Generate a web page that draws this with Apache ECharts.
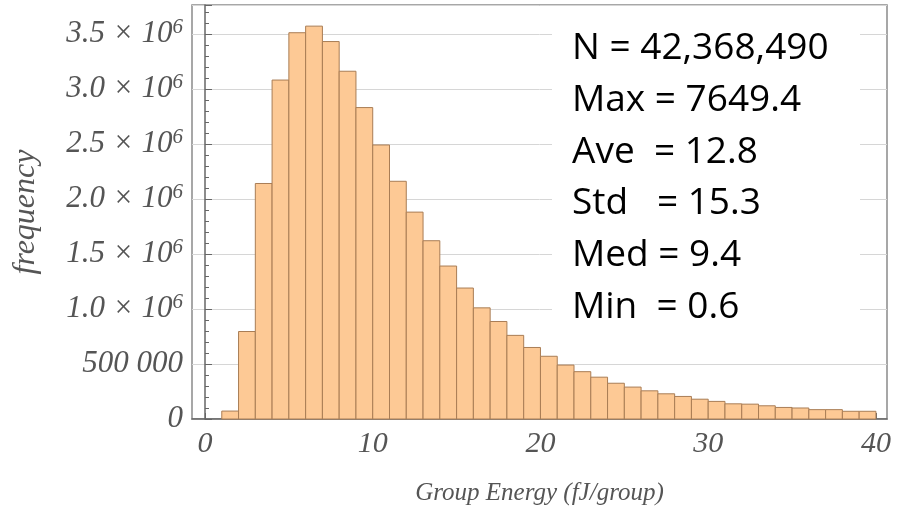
<!DOCTYPE html>
<html>
<head>
<meta charset="utf-8">
<script src="https://cdn.jsdelivr.net/npm/echarts@6/dist/echarts.min.js"></script>
<style>
html,body{margin:0;padding:0;background:#fff;}
#chart{width:897px;height:511px;}
</style>
</head>
<body>
<div id="chart"></div>
<script>
// ---- data ----
const binStarts = [1,2,3,4,5,6,7,8,9,10,11,12,13,14,15,16,17,18,19,20,21,22,23,24,25,26,27,28,29,30,31,32,33,34,35,36,37,38,39];
const binEnds   = [2,3,4,5,6,7,8,9,10,11,12,13,14,15,16,17,18,19,20,21,22,23,24,25,26,27,28,29,30,31,32,33,34,35,36,37,38,39,40];
const counts = [72000,795000,2140000,3080000,3510000,3570000,3430000,3160000,2830000,2490000,
                2160000,1880000,1620000,1390000,1190000,1010000,886000,760000,650000,570000,
                490000,430000,380000,325000,290000,256000,229000,205000,180000,160000,
                138000,135000,120000,105000,100000,85000,85000,70000,70000];
const xTickValues = [0,10,20,30,40];
const xTickLabels = ['0','10','20','30','40'];
const yTickValues = [0,500000,1000000,1500000,2000000,2500000,3000000,3500000];
const yTickMantissa = ['0','500 000','1.0','1.5','2.0','2.5','3.0','3.5'];
const statsLines = ['N = 42,368,490','Max = 7649.4','Ave  = 12.8','Std   = 15.3','Med = 9.4','Min  = 0.6'];

const histData = binStarts.map((s,i)=>[s, binEnds[i], counts[i]]);

const chart = echarts.init(document.getElementById('chart'), null, {renderer:'canvas'});
const serif = '"Liberation Serif", "DejaVu Serif", serif';

const graphics = [{
  type:'rect', z:50,
  shape:{x:552, y:12, width:308, height:320},
  style:{fill:'#ffffff'}
}];
statsLines.forEach((t,i)=>{
  graphics.push({
    type:'text', z:60,
    x:572, y:48.5 + i*51.8,
    style:{text:t, fill:'#000', font:'37px "Open Sans"', verticalAlign:'middle', align:'left'}
  });
});

chart.setOption({
  animation:false,
  backgroundColor:'#ffffff',
  grid:{left:192, right:10, top:5, bottom:90, show:true, borderColor:'#8a8a8a', borderWidth:1.5},
  xAxis:{
    type:'value', min:-0.775, max:40.66,
    name:'Group Energy (fJ/group)', nameLocation:'middle', nameGap:62,
    nameTextStyle:{fontFamily:serif, fontStyle:'italic', fontSize:25, color:'#555'},
    axisLine:{show:true, onZero:false, lineStyle:{color:'#666', width:1.5}},
    axisTick:{show:true, inside:true, length:6, customValues:xTickValues, lineStyle:{color:'#666'}},
    axisLabel:{customValues:xTickValues, margin:10, fontFamily:serif, fontStyle:'italic', fontSize:30, color:'#555',
      formatter:(v)=>{const k=xTickValues.indexOf(v); return k>=0?xTickLabels[k]:'';}},
    splitLine:{show:false}
  },
  yAxis:{
    type:'value', min:0, max:3762000, interval:500000,
    name:'frequency', nameLocation:'middle', nameGap:150, nameRotate:90,
    nameTextStyle:{fontFamily:serif, fontStyle:'italic', fontSize:32, color:'#555'},
    axisLine:{show:true, lineStyle:{color:'#666', width:1.5}},
    axisTick:{show:true, inside:true, length:7, lineStyle:{color:'#666'}},
    minorTick:{show:true, splitNumber:5, length:4, lineStyle:{color:'#666'}},
    splitLine:{show:true, lineStyle:{color:'#d6d6d6', width:1}},
    axisLabel:{margin:9,
      formatter:(v)=>{
        const k = yTickValues.indexOf(v);
        if(k<0) return '';
        if(k<2) return '{a|'+yTickMantissa[k]+'}';
        return '{a|'+yTickMantissa[k]+' × 10}{s|6}';
      },
      rich:{
        a:{fontFamily:serif, fontStyle:'italic', fontSize:31, color:'#555', lineHeight:34},
        s:{fontFamily:serif, fontStyle:'italic', fontSize:21, color:'#555', lineHeight:22, verticalAlign:'top'}
      }
    }
  },
  series:[{
    type:'custom',
    encode:{x:[0,1], y:2},
    data:histData,
    renderItem:(params, api)=>{
      const p0 = api.coord([api.value(0), api.value(2)]);
      const p1 = api.coord([api.value(1), 0]);
      return {type:'rect',
        shape:{x:p0[0], y:p0[1], width:p1[0]-p0[0], height:p1[1]-p0[1]},
        style:{fill:'#fdc995', stroke:'#a97d55', lineWidth:1}};
    }
  }],
  graphic:graphics
});
</script>
</body>
</html>
